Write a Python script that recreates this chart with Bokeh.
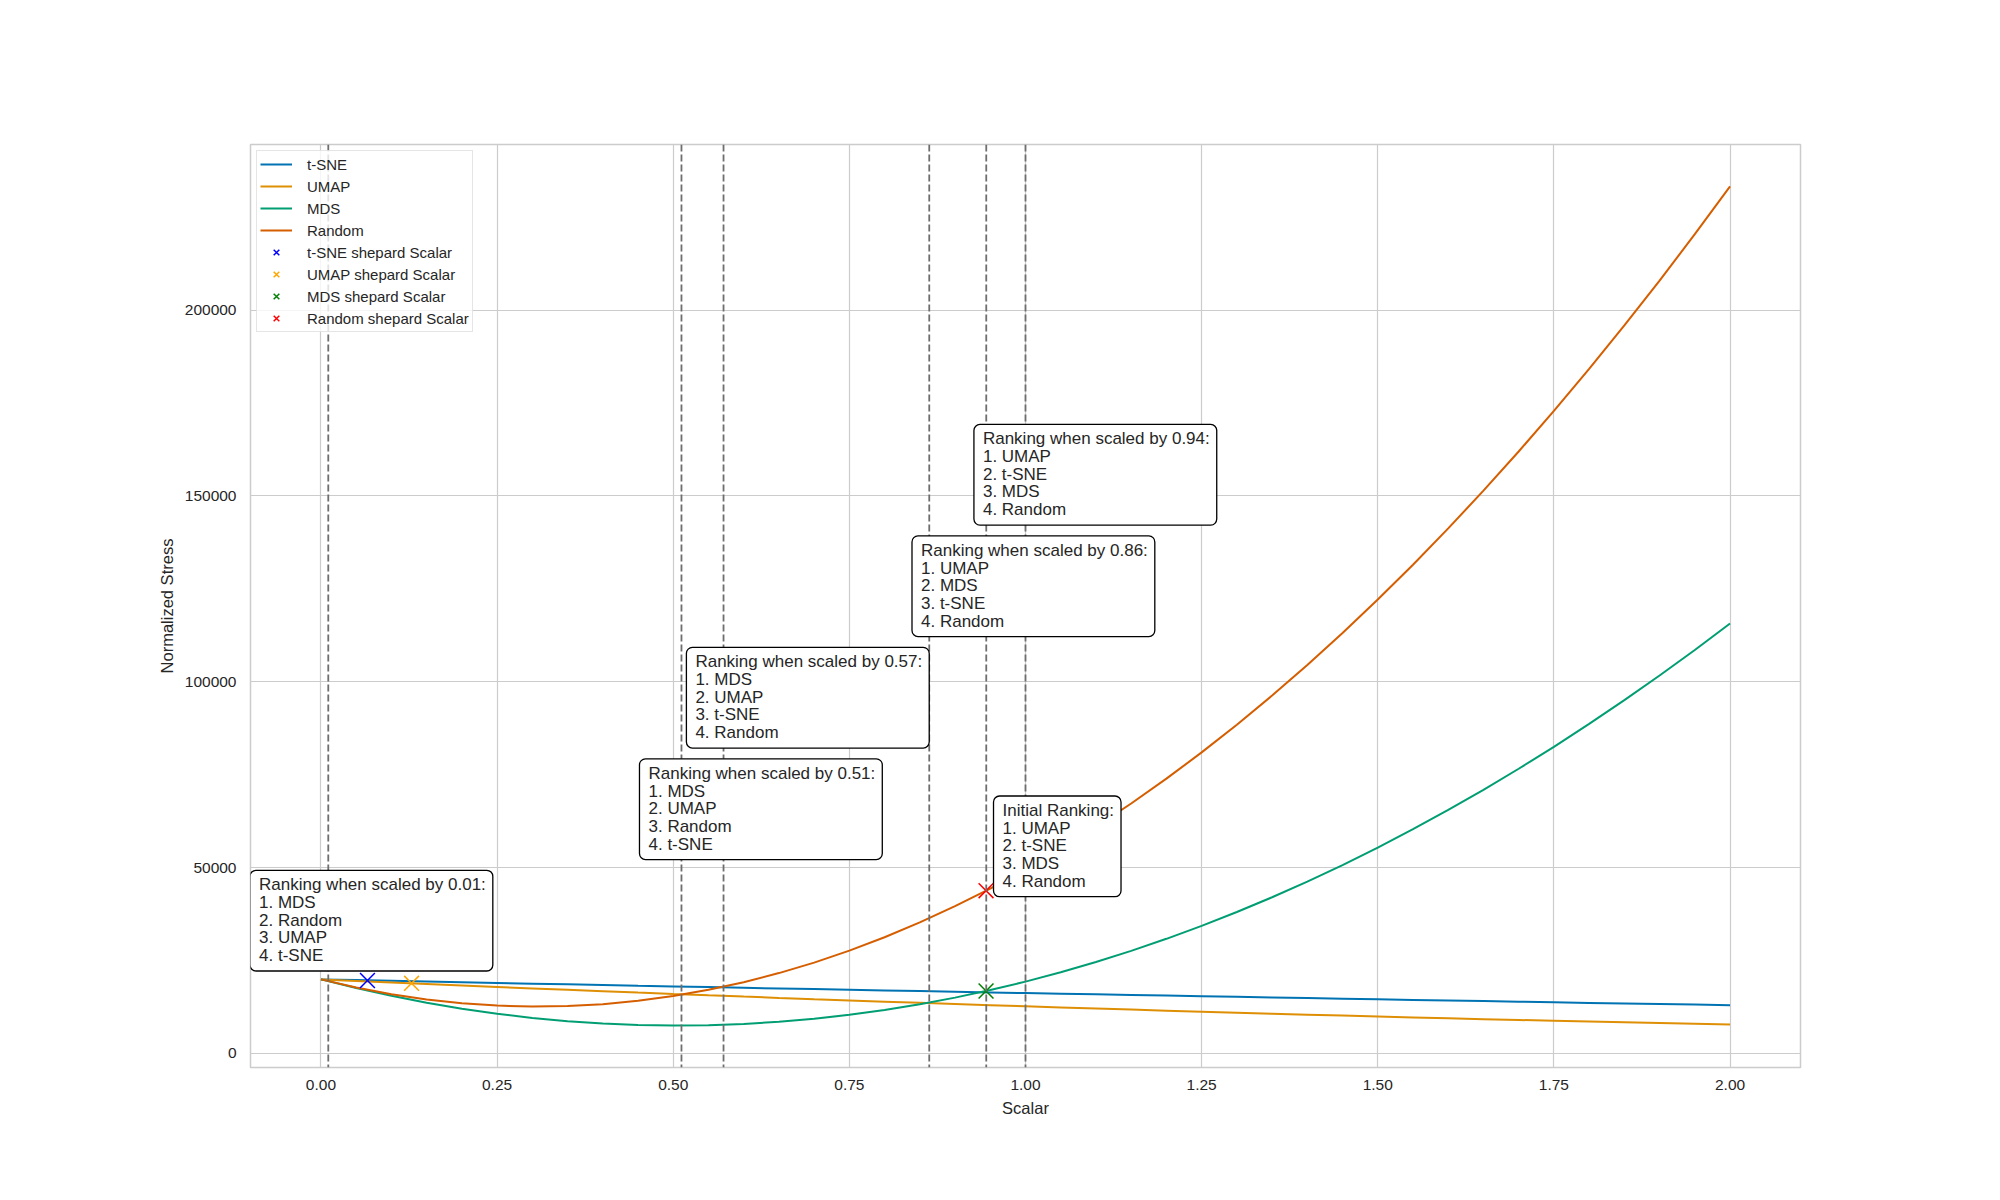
from bokeh.plotting import figure
from bokeh.models import (Range1d, FixedTicker, NumeralTickFormatter, Span, Label,
                          Legend, LegendItem)
from bokeh.embed import file_html
from bokeh.resources import INLINE

# ---------------- data ----------------
scalar = [0.00, 0.05, 0.10, 0.15, 0.20, 0.25, 0.30, 0.35, 0.40, 0.45, 0.50,
          0.55, 0.60, 0.65, 0.70, 0.75, 0.80, 0.85, 0.90, 0.95, 1.00,
          1.05, 1.10, 1.15, 1.20, 1.25, 1.30, 1.35, 1.40, 1.45, 1.50,
          1.55, 1.60, 1.65, 1.70, 1.75, 1.80, 1.85, 1.90, 1.95, 2.00]

tsne = [19900, 19706, 19513, 19321, 19130, 18941, 18752, 18564, 18378, 18192, 18008,
        17824, 17642, 17460, 17280, 17101, 16922, 16745, 16569, 16394, 16220,
        16047, 15875, 15704, 15534, 15366, 15198, 15031, 14866, 14701, 14538,
        14375, 14214, 14053, 13894, 13736, 13578, 13422, 13267, 13113, 12960]
umap = [19900, 19481, 19069, 18662, 18261, 17866, 17477, 17094, 16717, 16345, 15980,
        15620, 15267, 14919, 14577, 14241, 13911, 13587, 13269, 12956, 12650,
        12349, 12055, 11766, 11483, 11206, 10935, 10670, 10411, 10157, 9910,
        9668, 9433, 9203, 8979, 8761, 8549, 8343, 8143, 7948, 7760]
mds = [19900, 17567, 15476, 13628, 12022, 10658, 9537, 8659, 8022, 7629, 7478,
       7569, 7902, 8479, 9297, 10358, 11662, 13208, 14996, 17027, 19300,
       21816, 24574, 27575, 30818, 34303, 38031, 42002, 46214, 50670, 55368,
       60308, 65490, 70916, 76583, 82493, 88646, 95041, 101678, 108558, 115680]
random_ = [19900, 17717, 15920, 14508, 13482, 12841, 12586, 12716, 13232, 14133, 15420,
           17093, 19150, 21594, 24422, 27637, 31237, 35222, 39593, 44350, 49492,
           55020, 60933, 67231, 73915, 80985, 88440, 96280, 104507, 113118, 122115,
           131498, 141266, 151420, 161959, 172884, 184194, 195890, 207971, 220438, 233290]

series_names = ["t-SNE", "UMAP", "MDS", "Random"]
series_values = [tsne, umap, mds, random_]
series_colors = ["#0173b2", "#de8f05", "#029e73", "#d55e00"]

shepard_names = ["t-SNE shepard Scalar", "UMAP shepard Scalar",
                 "MDS shepard Scalar", "Random shepard Scalar"]
shepard_x = [0.066, 0.1286, 0.944, 0.944]
shepard_y = [19600, 18840, 16770, 43760]
shepard_colors = ["blue", "orange", "green", "red"]

rank_change_scalars = [0.0104, 0.5117, 0.5714, 0.8634, 0.9443, 1.0]

annot_texts = [
    "Ranking when scaled by 0.01:\n1. MDS\n2. Random\n3. UMAP\n4. t-SNE",
    "Ranking when scaled by 0.51:\n1. MDS\n2. UMAP\n3. Random\n4. t-SNE",
    "Ranking when scaled by 0.57:\n1. MDS\n2. UMAP\n3. t-SNE\n4. Random",
    "Ranking when scaled by 0.86:\n1. UMAP\n2. MDS\n3. t-SNE\n4. Random",
    "Ranking when scaled by 0.94:\n1. UMAP\n2. t-SNE\n3. MDS\n4. Random",
    "Initial Ranking:\n1. UMAP\n2. t-SNE\n3. MDS\n4. Random",
]
annot_x = [-0.1007, 0.4521, 0.5187, 0.8389, 0.9268, 0.9546]
annot_y = [49250, 79250, 109250, 139250, 169250, 69250]

x_ticks = [0.0, 0.25, 0.5, 0.75, 1.0, 1.25, 1.5, 1.75, 2.0]
y_ticks = [0, 50000, 100000, 150000, 200000]

# ---------------- ranges (matplotlib-like 5% margins) ----------------
all_y = [v for s in series_values for v in s]
ymin, ymax = min(all_y), max(all_y)
ypad = 0.05 * (ymax - ymin)
xmin, xmax = min(scalar), max(scalar)
xpad = 0.05 * (xmax - xmin)

FONT = "Liberation Sans"
TXT = "#262626"

p = figure(width=2000, height=1200, output_backend="svg", toolbar_location=None,
           x_range=Range1d(xmin - xpad, xmax + xpad),
           y_range=Range1d(ymin - ypad, ymax + ypad),
           min_border_left=250, min_border_right=200,
           min_border_top=144, min_border_bottom=133,
           background_fill_color="white", border_fill_color="white")

p.outline_line_color = "#cccccc"
p.outline_line_width = 1.5
for g in (p.xgrid, p.ygrid):
    g.grid_line_color = "#cccccc"
    g.grid_line_width = 1.2

p.xaxis.ticker = FixedTicker(ticks=x_ticks)
p.yaxis.ticker = FixedTicker(ticks=y_ticks)
p.xaxis.formatter = NumeralTickFormatter(format="0.00")
p.yaxis.formatter = NumeralTickFormatter(format="0")
for ax in (p.xaxis, p.yaxis):
    ax.axis_line_color = None
    ax.major_tick_line_color = None
    ax.minor_tick_line_color = None
    ax.major_tick_out = 0
    ax.major_tick_in = 0
    ax.major_label_text_font = FONT
    ax.major_label_text_font_size = "15.5px"
    ax.major_label_text_color = TXT
    ax.axis_label_text_font = FONT
    ax.axis_label_text_font_size = "16.5px"
    ax.axis_label_text_font_style = "normal"
    ax.axis_label_text_color = TXT
p.xaxis.axis_label = "Scalar"
p.yaxis.axis_label = "Normalized Stress"
p.xaxis.major_label_standoff = 12
p.yaxis.major_label_standoff = 14
p.xaxis.axis_label_standoff = 6
p.yaxis.axis_label_standoff = 6

items = []
for name, vals, col in zip(series_names, series_values, series_colors):
    r = p.line(scalar, vals, line_color=col, line_width=2)
    items.append(LegendItem(label=name, renderers=[r]))

for name, sx, sy, col in zip(shepard_names, shepard_x, shepard_y, shepard_colors):
    r = p.scatter([sx], [sy], marker="x", size=21, line_color=col, line_width=1.5)
    items.append(LegendItem(label=name, renderers=[r]))

for v in rank_change_scalars:
    p.add_layout(Span(location=v, dimension="height", line_color="#6e6e6e",
                      line_dash="7 3", line_width=1.8))

for t, ax_, ay_ in zip(annot_texts, annot_x, annot_y):
    lab = Label(x=ax_, y=ay_, text=t, anchor="top_left",
                text_font=FONT, text_font_size="17px", text_color=TXT,
                text_line_height=0.93,
                padding=(9, 7, 5, 6), border_radius=6,
                background_fill_color="white", background_fill_alpha=1.0,
                border_line_color="black", border_line_width=1.3)
    p.add_layout(lab)

legend = Legend(items=items, location="top_left", margin=6, padding=3, spacing=2,
                glyph_width=32, glyph_height=20, label_height=20, label_standoff=15,
                label_text_font=FONT, label_text_font_size="15px",
                label_text_color=TXT, border_line_color="#cccccc",
                border_line_width=1, background_fill_alpha=0.8)
p.add_layout(legend)

open("out.html", "w").write(file_html(p, INLINE))
